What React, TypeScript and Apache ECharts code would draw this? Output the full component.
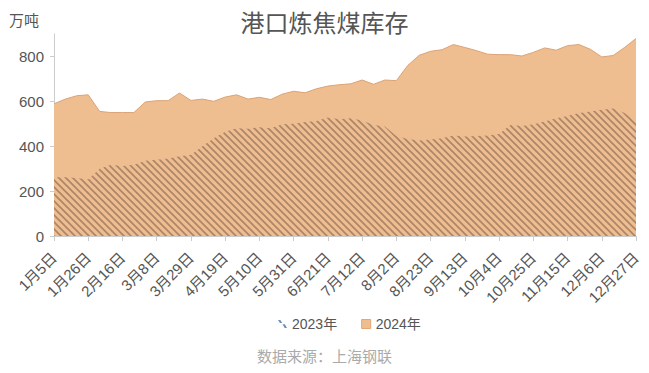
import React, { useEffect, useRef } from "react";
import * as echarts from "echarts";

const months = [
  "1月5日","1月12日","1月19日","1月26日","2月2日","2月9日","2月16日","2月23日","3月1日","3月8日",
  "3月15日","3月22日","3月29日","4月5日","4月12日","4月19日","4月26日","5月3日","5月10日","5月17日",
  "5月24日","5月31日","6月7日","6月14日","6月21日","6月28日","7月5日","7月12日","7月19日","7月26日",
  "8月2日","8月9日","8月16日","8月23日","8月30日","9月6日","9月13日","9月20日","9月27日","10月4日",
  "10月11日","10月18日","10月25日","11月1日","11月8日","11月15日","11月22日","11月29日","12月6日","12月13日",
  "12月20日","12月27日",
];

const stock2023 = [
  262, 262, 258, 252, 300, 318, 312, 318, 335, 340,
  345, 355, 362, 400, 435, 465, 480, 478, 485, 480,
  498, 500, 508, 512, 528, 520, 525, 515, 495, 488,
  445, 432, 425, 430, 436, 448, 443, 445, 448, 455,
  495, 490, 498, 510, 525, 535, 548, 555, 563, 568,
  548, 510,
];

const stock2024 = [
  589, 610, 625, 629, 555, 550, 550, 550, 597, 603,
  603, 637, 604, 610, 600, 619, 629, 610, 618, 608,
  632, 645, 638, 656, 668, 674, 678, 695, 676, 695,
  692, 760, 805, 823, 830, 853, 840, 826, 810, 808,
  808, 802, 818, 838, 828, 848, 853, 832, 798, 804,
  840, 880,
];

const seriesNames = ["2023年", "2024年"];
const yTicks = { min: 0, max: 900, interval: 200 };

const ORANGE = "#EEBE91";
const ORANGE_LINE = "#DCA275";
const STRIPE = "#AD8668";

function makeHatch(): HTMLCanvasElement {
  const s = 7;
  const c = document.createElement("canvas");
  c.width = s;
  c.height = s;
  const ctx = c.getContext("2d")!;
  ctx.fillStyle = ORANGE;
  ctx.fillRect(0, 0, s, s);
  ctx.strokeStyle = STRIPE;
  ctx.lineWidth = 1.7;
  for (const k of [-s, 0, s]) {
    ctx.beginPath();
    ctx.moveTo(k - 2, -2);
    ctx.lineTo(k + s + 2, s + 2);
    ctx.stroke();
  }
  return c;
}

export default function App() {
  const ref = useRef<HTMLDivElement>(null);
  useEffect(() => {
    if (!ref.current) return;
    const chart = echarts.init(ref.current, null, { renderer: "svg" });
    const hatch = makeHatch();
    const font = "'Liberation Sans', 'Noto Sans CJK SC', sans-serif";
    chart.setOption({
      animation: false,
      backgroundColor: "#fff",
      textStyle: { fontFamily: font },
      title: {
        text: "港口炼焦煤库存",
        left: "center",
        top: 6,
        textStyle: { fontSize: 24, fontWeight: "normal", color: "#555", fontFamily: font },
      },
      graphic: [
        {
          type: "text",
          left: 9,
          top: 13,
          style: { text: "万吨", fontSize: 15, fill: "#555", fontFamily: font },
        },
        {
          type: "text",
          left: "center",
          top: 349,
          style: { text: "数据来源：上海钢联", fontSize: 15, fill: "#aaa", fontFamily: font },
        },
      ],
      legend: {
        top: 312,
        left: 273,
        itemWidth: 9,
        itemHeight: 9,
        itemGap: 24,
        textStyle: { fontSize: 14, color: "#555", fontFamily: font },
        data: [
          {
            name: seriesNames[0],
            icon: "path://M0,0 L2.6,0 L4.8,3.4 L2.2,3.4 Z M5,4.8 L7.6,4.8 L10,9 L7.4,9 Z",
            itemStyle: { color: "#6f90b6" },
          },
          {
            name: seriesNames[1],
            icon: "rect",
            itemStyle: { color: ORANGE, borderColor: "#E3A676", borderWidth: 1 },
          },
        ],
      },
      grid: { left: 54, right: 13, top: 34, bottom: 137 },
      xAxis: {
        type: "category",
        data: months,
        boundaryGap: false,
        axisLine: { lineStyle: { color: "#ccc" } },
        axisTick: { show: true, interval: 2, length: 5, lineStyle: { color: "#ccc" } },
        axisLabel: { interval: 2, rotate: 45, fontSize: 15, color: "#555", margin: 19 },
        splitLine: { show: false },
      },
      yAxis: {
        type: "value",
        min: yTicks.min,
        max: yTicks.max,
        interval: yTicks.interval,
        axisLine: { show: true, lineStyle: { color: "#ccc" } },
        axisTick: { show: true, length: 4, lineStyle: { color: "#ccc" } },
        axisLabel: { fontSize: 15, color: "#555", margin: 10, showMaxLabel: false },
        splitLine: { show: false },
      },
      series: [
        {
          name: seriesNames[1],
          type: "line",
          data: stock2024,
          showSymbol: false,
          symbol: "none",
          itemStyle: { color: ORANGE },
          lineStyle: { color: ORANGE_LINE, width: 1 },
          areaStyle: { color: ORANGE, opacity: 1 },
          z: 2,
        },
        {
          name: seriesNames[0],
          type: "line",
          data: stock2023,
          showSymbol: false,
          symbol: "none",
          itemStyle: { color: "#6f90b6" },
          lineStyle: { width: 0 },
          areaStyle: {
            color: { image: hatch, repeat: "repeat", imageWidth: 7, imageHeight: 7 } as any,
            opacity: 1,
          },
          z: 3,
        },
      ],
    });
    return () => chart.dispose();
  }, []);
  return <div ref={ref} style={{ width: 649, height: 373, position: "absolute", left: 0, top: 0 }} />;
}
